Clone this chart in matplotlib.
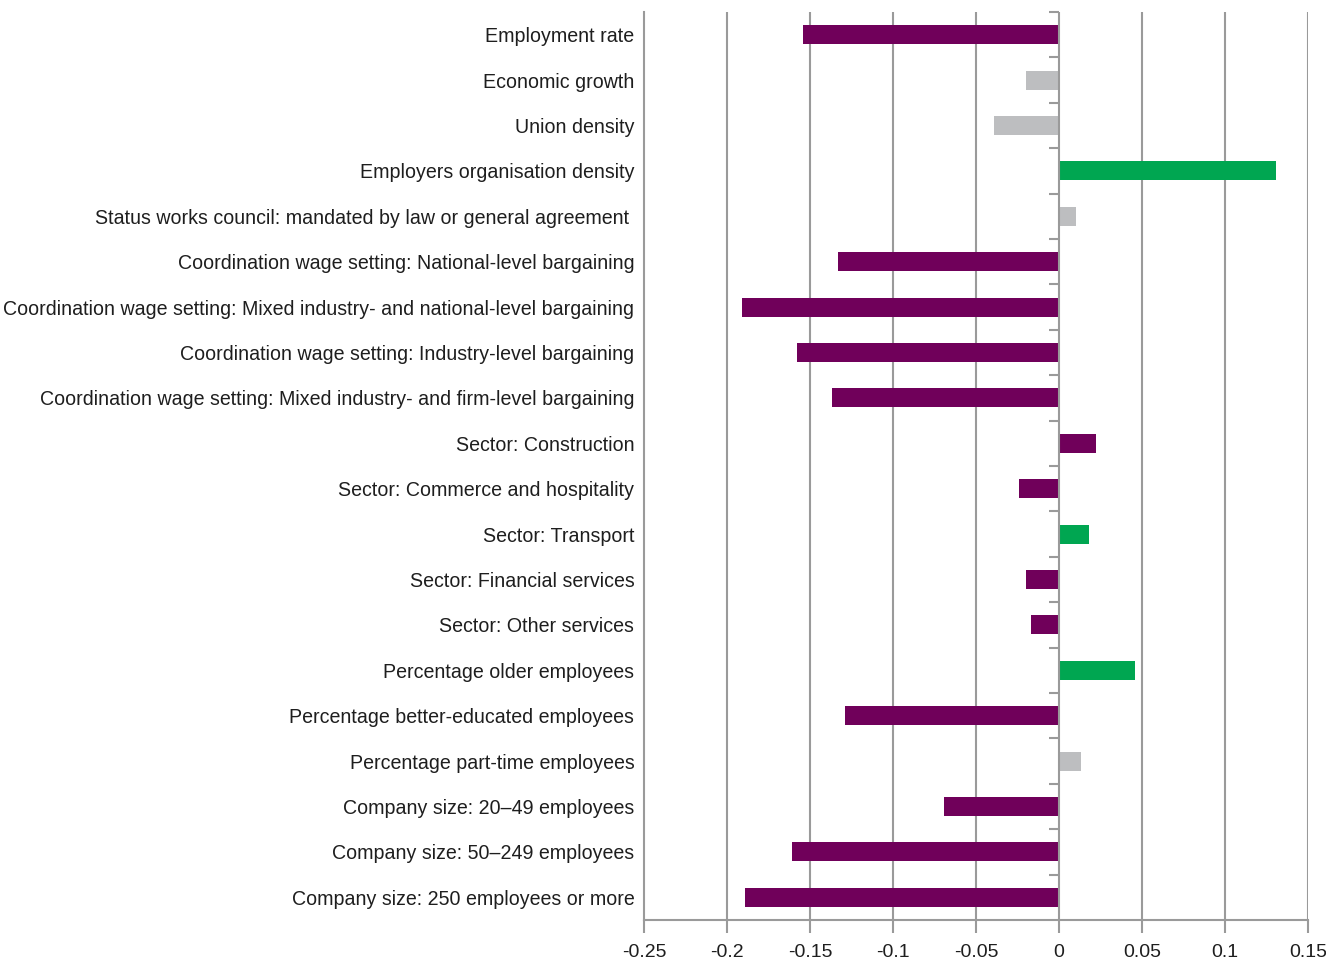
import numpy as np
import matplotlib.pyplot as plt

labels = [
    "Employment rate",
    "Economic growth",
    "Union density",
    "Employers organisation density",
    "Status works council: mandated by law or general agreement ",
    "Coordination wage setting: National-level bargaining",
    "Coordination wage setting: Mixed industry- and national-level bargaining",
    "Coordination wage setting: Industry-level bargaining",
    "Coordination wage setting: Mixed industry- and firm-level bargaining",
    "Sector: Construction",
    "Sector: Commerce and hospitality",
    "Sector: Transport",
    "Sector: Financial services",
    "Sector: Other services",
    "Percentage older employees",
    "Percentage better-educated employees",
    "Percentage part-time employees",
    "Company size: 20\u201349 employees",
    "Company size: 50\u2013249 employees",
    "Company size: 250 employees or more",
]
values = [-0.154, -0.020, -0.039, 0.131, 0.010, -0.133, -0.191, -0.158, -0.137,
          0.022, -0.024, 0.018, -0.020, -0.017, 0.046, -0.129, 0.013, -0.069,
          -0.161, -0.189]
# p = purple, g = green, n = grey (not significant)
kinds = ["p", "n", "n", "g", "n", "p", "p", "p", "p", "p", "p", "g", "p", "p",
         "g", "p", "n", "p", "p", "p"]
xticks = [-0.25, -0.2, -0.15, -0.1, -0.05, 0, 0.05, 0.1, 0.15]
xticklabels = ["-0.25", "-0.2", "-0.15", "-0.1", "-0.05", "0", "0.05", "0.1", "0.15"]

colmap = {"p": "#70005a", "g": "#00a651", "n": "#bdbec0"}
gridc = "#9a9a9a"
txtc = "#1e1e1e"

plt.rcParams['font.family'] = ['Liberation Sans', 'DejaVu Sans']

fig = plt.figure(figsize=(13.26, 9.59), dpi=100)
ax = fig.add_axes([644/1326, 1-920/959, (1308-644)/1326, (920-12)/959])

y = np.arange(len(labels))
ax.barh(y, values, height=0.42, color=[colmap[k] for k in kinds], zorder=3)

ax.set_xlim(-0.25, 0.15)
ax.set_ylim(len(labels)-0.5, -0.5)
ax.set_xticks(xticks)
ax.set_xticklabels(xticklabels, fontsize=14, color=txtc)
ax.set_yticks(y)
ax.set_yticklabels(labels, fontsize=14.1, color=txtc)
ax.tick_params(axis='y', length=0, pad=7)
ax.tick_params(axis='x', length=9, width=1.5, color=gridc, pad=8)

for xv in xticks[1:]:
    if xv != 0:
        ax.axvline(xv, color=gridc, lw=1.5, zorder=1)
ax.axvline(0, color=gridc, lw=1.5, zorder=4)
bounds = np.arange(len(labels)) - 0.5
ax.plot(np.zeros(len(bounds)), bounds, linestyle="none", marker=0,
        markersize=7, markeredgewidth=1.5, color=gridc, zorder=4, clip_on=False)

for s in ["top", "right"]:
    ax.spines[s].set_visible(False)
for s in ["left", "bottom"]:
    ax.spines[s].set_color(gridc)
    ax.spines[s].set_linewidth(1.5)

fig.savefig("out.png", dpi=100)
